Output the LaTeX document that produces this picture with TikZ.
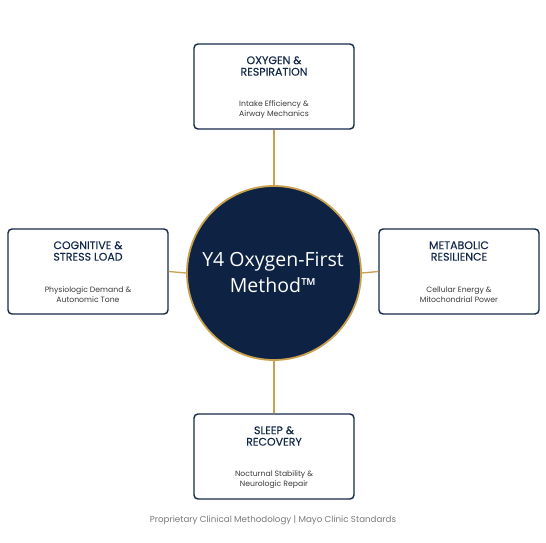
\documentclass[tikz,border=0pt]{standalone}
\usepackage{fontspec}
\setmainfont{Poppins}
\newfontfamily\ttlfont{Poppins}[FakeBold=0.15]
\newfontfamily\circfont{Open Sans}
\definecolor{navy}{HTML}{14284A}
\definecolor{deepnavy}{HTML}{0E2343}
\definecolor{gold}{HTML}{C9A04E}
\definecolor{subgray}{HTML}{3A3A3A}
\definecolor{footgray}{HTML}{7A7A7A}
\tikzset{
  pillar/.style={draw=navy, line width=1.4pt, rounded corners=4pt, fill=white, minimum width=160pt, minimum height=85pt},
  ttl/.style={align=center, text=navy, font=\ttlfont\fontsize{11}{11.5}\selectfont, inner sep=0pt},
  sub/.style={align=center, text=subgray, font=\fontsize{7.7}{10}\selectfont, inner sep=0pt},
  link/.style={draw=gold, line width=1.3pt},
  hub/.style={circle, draw=gold, line width=1.8pt, fill=deepnavy, minimum size=174pt, inner sep=0pt}
}
\begin{document}
\begin{tikzpicture}[x=1pt,y=-1pt]
\useasboundingbox (0,0) rectangle (546,543);
\fill[white] (0,0) rectangle (546,543);
\node[hub] (c) at (274,273) {};
\node[pillar] (t) at (274,86.5) {};
\node[pillar] (l) at (88,271.5) {};
\node[pillar] (r) at (459,271.5) {};
\node[pillar] (b) at (274,456.5) {};
\draw[link] (t.south) -- (c.north);
\draw[link] (b.north) -- (c.south);
\draw[link] (l.east) -- (c.west);
\draw[link] (r.west) -- (c.east);
\node[text=white, align=center, font=\circfont\fontsize{19.5}{26}\selectfont] (ct) at (273,272) {Y4 Oxygen-First\\Method™};
\node[ttl] (t1) at (274,66) {OXYGEN \&\\RESPIRATION};
\node[sub] (t2) at (274,110) {Intake Efficiency \&\\Airway Mechanics};
\node[ttl] (l1) at (88,251) {COGNITIVE \&\\STRESS LOAD};
\node[sub] (l2) at (88,295) {Physiologic Demand \&\\Autonomic Tone};
\node[ttl] (r1) at (459,251) {METABOLIC\\RESILIENCE};
\node[sub] (r2) at (459,295) {Cellular Energy \&\\Mitochondrial Power};
\node[ttl] (b1) at (274,436) {SLEEP \&\\RECOVERY};
\node[sub] (b2) at (274,480) {Nocturnal Stability \&\\Neurologic Repair};
\node[text=footgray, font=\fontsize{8.7}{10}\selectfont] (f) at (273,520) {Proprietary Clinical Methodology | Mayo Clinic Standards};
\end{tikzpicture}
\end{document}
